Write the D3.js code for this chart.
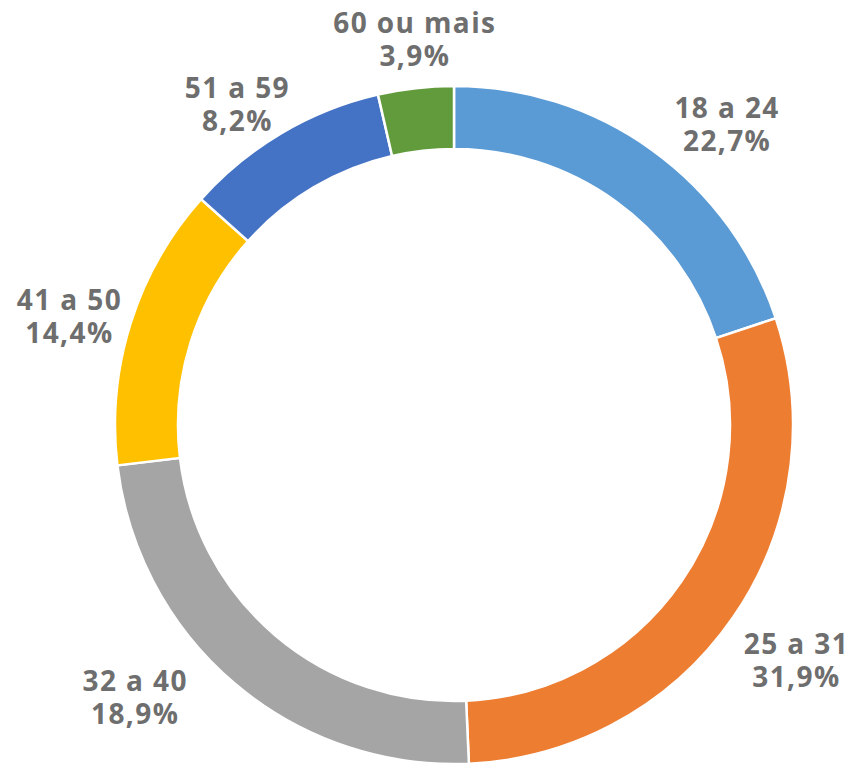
<!DOCTYPE html>
<html>
<head>
<meta charset="utf-8">
<script src="https://cdn.jsdelivr.net/npm/d3@7"></script>
<style>
  html, body { margin: 0; padding: 0; background: #fff; }
  svg { display: block; }
</style>
</head>
<body>
<div id="donut"></div>
<script>
// Faixa etária - donut chart

const categories = ["18 a 24", "25 a 31", "32 a 40", "41 a 50", "51 a 59", "60 ou mais"];
// slice sizes as drawn in the picture (the typed labels below differ from the geometry)
const sliceValues = [19.9, 29.4, 23.8, 13.5, 9.8, 3.6];
const labelTexts = ["22,7%", "31,9%", "18,9%", "14,4%", "8,2%", "3,9%"];
const colors = ["#5B9BD5", "#ED7D31", "#A5A5A5", "#FFC000", "#4472C4", "#629B3C"];

// label nudges (px) from the outer label arc, like Excel's hand-placed labels
const labelNudge = [[39, 34], [13, 19], [-60, -22], [-3, 22], [-13, 34], [6, 22]];

const width = 857;
const height = 763;
const cx = 454, cy = 425;
const outerR = 339, innerR = 276, labelR = 400;

const svg = d3.select("#donut")
  .append("svg")
  .attr("width", width)
  .attr("height", height);

const g = svg.append("g").attr("transform", `translate(${cx},${cy})`);

const data = categories.map((c, i) => ({
  cat: c, value: sliceValues[i], label: labelTexts[i], color: colors[i], nudge: labelNudge[i]
}));

const pie = d3.pie()
  .value(d => d.value)
  .sort(null);

const arc = d3.arc()
  .innerRadius(innerR)
  .outerRadius(outerR);

const labelArc = d3.arc()
  .innerRadius(labelR)
  .outerRadius(labelR);

const arcs = pie(data);

g.selectAll("path.slice")
  .data(arcs)
  .join("path")
  .attr("class", "slice")
  .attr("d", arc)
  .attr("fill", d => d.data.color)
  .attr("stroke", "#fff")
  .attr("stroke-width", 2.5)
  .attr("stroke-linejoin", "miter");

const labels = g.selectAll("text.lbl")
  .data(arcs)
  .join("text")
  .attr("class", "lbl")
  .attr("text-anchor", "middle")
  .attr("transform", d => {
    const [x, y] = labelArc.centroid(d);
    return `translate(${x + d.data.nudge[0]},${y + d.data.nudge[1]})`;
  })
  .style("font-family", "'Open Sans', 'DejaVu Sans', sans-serif")
  .style("font-weight", "700")
  .style("font-size", "28px")
  .style("letter-spacing", "1.4px")
  .style("fill", "#6e6e6e");

labels.append("tspan")
  .attr("x", 0)
  .attr("y", -16.5)
  .text(d => d.data.cat);

labels.append("tspan")
  .attr("x", 0)
  .attr("y", 16.5)
  .text(d => d.data.label);
</script>
</body>
</html>
